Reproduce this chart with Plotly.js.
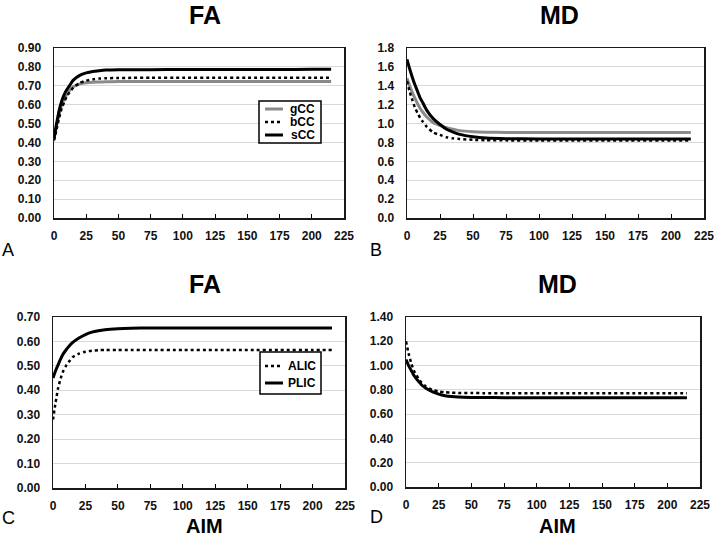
<!DOCTYPE html>
<html><head><meta charset="utf-8">
<script src="https://cdn.plot.ly/plotly-3.0.1.min.js"></script>
<style>html,body{margin:0;padding:0;background:#fff}#chart{width:720px;height:538px}</style>
</head><body><div id="chart"></div>
<script>
// AIM values (x)
const aim = [0,2,4,6,8,10,12,15,20,25,30,35,40,50,60,75,100,125,150,175,200,215];
// Panel A: FA, corpus callosum
const faGCC = [0.42,0.49,0.55,0.60,0.63,0.655,0.675,0.695,0.71,0.716,0.719,0.720,0.721,0.722,0.722,0.722,0.722,0.722,0.722,0.722,0.722,0.722];
const faBCC = [0.41,0.47,0.53,0.58,0.615,0.645,0.665,0.69,0.715,0.727,0.734,0.738,0.740,0.741,0.742,0.742,0.742,0.742,0.742,0.742,0.742,0.742];
const faSCC = [0.42,0.50,0.57,0.62,0.655,0.68,0.70,0.73,0.755,0.768,0.776,0.780,0.783,0.785,0.785,0.785,0.786,0.786,0.786,0.786,0.787,0.787];
// Panel B: MD, corpus callosum
const mdGCC = [1.48,1.40,1.33,1.27,1.21,1.16,1.12,1.07,1.01,0.98,0.955,0.94,0.925,0.913,0.908,0.906,0.905,0.905,0.905,0.905,0.905,0.905];
const mdBCC = [1.45,1.34,1.25,1.17,1.11,1.06,1.02,0.965,0.905,0.88,0.855,0.843,0.836,0.828,0.824,0.822,0.82,0.82,0.82,0.82,0.82,0.82];
const mdSCC = [1.68,1.58,1.49,1.41,1.34,1.27,1.22,1.14,1.05,0.99,0.94,0.91,0.885,0.86,0.847,0.84,0.837,0.837,0.837,0.837,0.837,0.837];
// Panel C: FA, internal capsule
const faALIC = [0.28,0.35,0.41,0.45,0.48,0.50,0.515,0.535,0.55,0.558,0.562,0.564,0.565,0.565,0.565,0.565,0.565,0.565,0.565,0.565,0.565,0.565];
const faPLIC = [0.45,0.48,0.505,0.53,0.55,0.565,0.578,0.595,0.614,0.628,0.638,0.644,0.648,0.652,0.654,0.655,0.655,0.655,0.655,0.655,0.655,0.655];
// Panel D: MD, internal capsule
const mdALIC = [1.20,1.10,1.02,0.96,0.92,0.885,0.86,0.83,0.80,0.787,0.78,0.777,0.775,0.774,0.773,0.773,0.773,0.773,0.773,0.773,0.773,0.773];
const mdPLIC = [1.05,1.00,0.96,0.92,0.89,0.865,0.84,0.815,0.785,0.765,0.752,0.745,0.741,0.738,0.737,0.736,0.736,0.736,0.736,0.736,0.736,0.736];

const xTicks = [0,25,50,75,100,125,150,175,200,225];
const ccNames = ['gCC','bCC','sCC'];
const icNames = ['ALIC','PLIC'];
const panelTitles = ['FA','MD','FA','MD'];
const panelLetters = ['A','B','C','D'];
const xLabel = 'AIM';

const W = 720, H = 538;
const px = v => v / W;
const py = v => 1 - v / H;
const FONT = '"Liberation Sans", Arial, sans-serif';
const GRAY = '#8a8a8a';

function tr(y, color, dash, width, xa, ya, name) {
  return {x: aim, y: y, type: 'scatter', mode: 'lines', name: name, showlegend: false,
    xaxis: xa, yaxis: ya, line: {color: color, dash: dash, width: width, shape: 'spline', smoothing: 0.6},
    hoverinfo: 'skip'};
}

const data = [
  tr(faGCC, GRAY, 'solid', 3, 'x', 'y', ccNames[0]),
  tr(faBCC, '#000', 'dot', 2.5, 'x', 'y', ccNames[1]),
  tr(faSCC, '#000', 'solid', 3, 'x', 'y', ccNames[2]),
  tr(mdGCC, GRAY, 'solid', 3, 'x2', 'y2', ccNames[0]),
  tr(mdBCC, '#000', 'dot', 2.5, 'x2', 'y2', ccNames[1]),
  tr(mdSCC, '#000', 'solid', 3, 'x2', 'y2', ccNames[2]),
  tr(faALIC, '#000', 'dot', 2.5, 'x3', 'y3', icNames[0]),
  tr(faPLIC, '#000', 'solid', 3, 'x3', 'y3', icNames[1]),
  tr(mdALIC, '#000', 'dot', 2.5, 'x4', 'y4', icNames[0]),
  tr(mdPLIC, '#000', 'solid', 3, 'x4', 'y4', icNames[1])
];

function xax(l, r, anchor) {
  return {domain: [px(l), px(r)], range: [0, 225], tickvals: xTicks, ticks: 'inside', ticklen: 4,
    tickcolor: '#000', tickwidth: 1, showgrid: false, zeroline: false, showline: true, mirror: true,
    linecolor: '#1a1a1a', linewidth: 1.5, anchor: anchor, fixedrange: true, ticklabelstandoff: 6,
    tickfont: {family: FONT, size: 12, color: '#111', weight: 'bold'}};
}
function yax(t, b, max, dtick, fmt, anchor) {
  return {domain: [py(b), py(t)], range: [0, max], dtick: dtick, tick0: 0, tickformat: fmt,
    ticks: '', showgrid: true, gridcolor: '#d9d9d9', gridwidth: 1, zeroline: false, showline: true,
    mirror: true, linecolor: '#1a1a1a', linewidth: 1.5, anchor: anchor, fixedrange: true,
    ticklabelstandoff: 9, tickfont: {family: FONT, size: 12, color: '#111', weight: 'bold'}};
}

function ann(text, x, y, size, bold) {
  return {text: text, xref: 'paper', yref: 'paper', x: px(x), y: py(y), xanchor: 'center', yanchor: 'middle',
    showarrow: false, font: {family: FONT, size: size, color: '#000', weight: bold ? 'bold' : 'normal'}};
}
function legText(text, xr, y) {
  return {text: text, xref: 'paper', yref: 'paper', x: px(xr), y: py(y), xanchor: 'right', yanchor: 'middle',
    showarrow: false, font: {family: FONT, size: 12, color: '#000', weight: 'bold'}};
}
function lseg(x0, x1, y, color, dash, w) {
  return {type: 'line', xref: 'paper', yref: 'paper', x0: px(x0), x1: px(x1), y0: py(y), y1: py(y),
    line: {color: color, dash: dash, width: w}};
}
function box(x0, y0, x1, y1) {
  return {type: 'rect', xref: 'paper', yref: 'paper', x0: px(x0), x1: px(x1), y0: py(y1), y1: py(y0),
    line: {color: '#000', width: 1.5}, fillcolor: '#fff', layer: 'above'};
}

const layout = {
  width: W, height: H, margin: {l: 0, r: 0, t: 0, b: 0}, showlegend: false,
  paper_bgcolor: '#fff', plot_bgcolor: '#fff',
  xaxis: xax(54, 344, 'y'), yaxis: yax(48, 218, 0.9, 0.1, '.2f', 'x'),
  xaxis2: xax(407, 704, 'y2'), yaxis2: yax(48, 218, 1.8, 0.2, '.1f', 'x2'),
  xaxis3: xax(53, 345, 'y3'), yaxis3: yax(317, 488, 0.7, 0.1, '.2f', 'x3'),
  xaxis4: xax(406, 700, 'y4'), yaxis4: yax(317, 487, 1.4, 0.2, '.2f', 'x4'),
  annotations: [
    ann(panelTitles[0], 205, 15, 25, true),
    ann(panelTitles[1], 559, 15, 25, true),
    ann(panelTitles[2], 205, 284, 25, true),
    ann(panelTitles[3], 557, 284, 25, true),
    ann(panelLetters[0], 8, 250, 18, false),
    ann(panelLetters[1], 376, 250, 18, false),
    ann(panelLetters[2], 8, 518, 18, false),
    ann(panelLetters[3], 376, 517, 18, false),
    ann(xLabel, 204, 526, 20, true),
    ann(xLabel, 557, 526, 20, true),
    legText(ccNames[0], 317, 109),
    legText(ccNames[1], 317, 122),
    legText(ccNames[2], 317, 135),
    legText(icNames[0], 318, 366),
    legText(icNames[1], 318, 383)
  ],
  shapes: [
    box(259, 101, 321, 143),
    lseg(265, 283, 109, GRAY, 'solid', 3),
    lseg(265, 283, 122, '#000', 'dot', 2.5),
    lseg(265, 283, 135, '#000', 'solid', 3),
    box(260, 352, 321, 394),
    lseg(265, 283, 366, '#000', 'dot', 2.5),
    lseg(265, 283, 383, '#000', 'solid', 3)
  ]
};

Plotly.newPlot('chart', data, layout, {displayModeBar: false, staticPlot: true});
</script></body></html>
